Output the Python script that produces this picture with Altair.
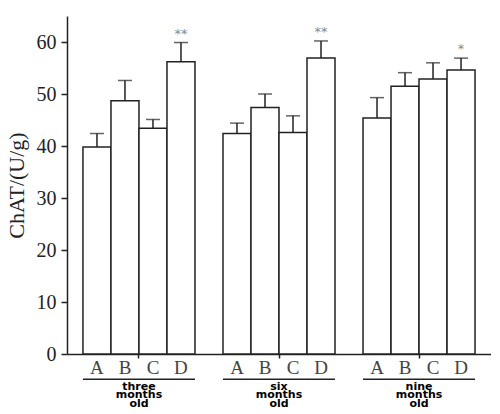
import altair as alt
import pandas as pd

groups = ["three months old", "six months old", "nine months old"]
letters = ["A", "B", "C", "D"]
means_three = [39.8, 48.7, 43.4, 56.2]
upper_three = [42.4, 52.6, 45.1, 59.9]
means_six = [42.4, 47.4, 42.6, 56.9]
upper_six = [44.4, 50.0, 45.8, 60.2]
means_nine = [45.4, 51.5, 52.9, 54.6]
upper_nine = [49.3, 54.1, 56.0, 56.9]
stars_three = ["", "", "", "**"]
stars_six = ["", "", "", "**"]
stars_nine = ["", "", "", "*"]

rows = []
for g, m, u, s in zip(groups,
                      [means_three, means_six, means_nine],
                      [upper_three, upper_six, upper_nine],
                      [stars_three, stars_six, stars_nine]):
    for l, mv, uv, sv in zip(letters, m, u, s):
        rows.append({"group": g, "letter": l, "mean": mv, "upper": uv, "star": sv})
df = pd.DataFrame(rows)
gdf = pd.DataFrame({"group": groups})

W, H = 424, 338
SERIF = "Liberation Serif"
INK = "#222222"

xenc = alt.X(
    "group:N", sort=groups,
    scale=alt.Scale(paddingInner=0.2, paddingOuter=0.114),
    axis=alt.Axis(
        title=None, labelAngle=0,
        labelExpr="split(datum.label, ' ')",
        labelFont="DejaVu Sans", labelFontWeight="bold", labelFontSize=11,
        labelLineHeight=8.5, labelBaseline="top", labelPadding=22,
        labelColor="#000000",
        tickSize=4, tickColor=INK, tickWidth=1.5,
        domainColor=INK, domainWidth=1.5,
    ),
)
xoff = alt.XOffset("letter:N", sort=letters, scale=alt.Scale(paddingInner=0, paddingOuter=0))
yscale = alt.Scale(domain=[0, 65], nice=False, zero=True)
yenc = alt.Y(
    "mean:Q", scale=yscale,
    axis=alt.Axis(
        title="ChAT/(U/g)", titleFont=SERIF, titleFontSize=22, titleFontWeight="normal",
        titleColor=INK, titlePadding=8,
        values=list(range(0, 70, 5)),
        labelExpr="datum.value % 10 === 0 ? datum.label : ''",
        labelFont=SERIF, labelFontSize=20, labelColor=INK, labelPadding=5,
        tickSize={"condition": {"test": "datum.value % 10 === 0", "value": 6}, "value": 3.5},
        tickColor=INK, tickWidth=1.5,
        domainColor=INK, domainWidth=1.5, grid=False,
    ),
)

bars = alt.Chart(df).mark_bar(fill="white", stroke=INK, strokeWidth=1.5).encode(
    x=xenc, xOffset=xoff, y=yenc
)
err = alt.Chart(df).mark_rule(color=INK, strokeWidth=1.5).encode(
    x=alt.X("group:N", sort=groups), xOffset=xoff,
    y=alt.Y("mean:Q", scale=yscale), y2="upper:Q"
)
caps = alt.Chart(df).mark_tick(orient="horizontal", size=14, thickness=1.5, color=INK).encode(
    x=alt.X("group:N", sort=groups), xOffset=xoff,
    y=alt.Y("upper:Q", scale=yscale)
)
stars = alt.Chart(df).mark_text(font="DejaVu Sans", fontSize=13, color="#888888", dy=-9).encode(
    x=alt.X("group:N", sort=groups), xOffset=xoff,
    y=alt.Y("upper:Q", scale=yscale), text="star:N"
)
letter_labels = alt.Chart(df).mark_text(font=SERIF, fontSize=19, color="#444444", baseline="middle").encode(
    x=alt.X("group:N", sort=groups), xOffset=xoff,
    y=alt.value(H + 14), text="letter:N"
)
underline = alt.Chart(gdf).mark_rect(color=INK).encode(
    x=alt.X("group:N", sort=groups),
    y=alt.value(H + 24.6), y2=alt.value(H + 26)
)

chart = alt.layer(bars, err, caps, stars, letter_labels, underline).properties(
    width=W, height=H,
    autosize=alt.AutoSizeParams(type="none"),
    padding={"left": 59, "top": 8, "right": 0, "bottom": 56},
    background="white",
).configure_view(stroke=None)

chart.save("out.html", embed_options={"renderer": "svg", "actions": False})
